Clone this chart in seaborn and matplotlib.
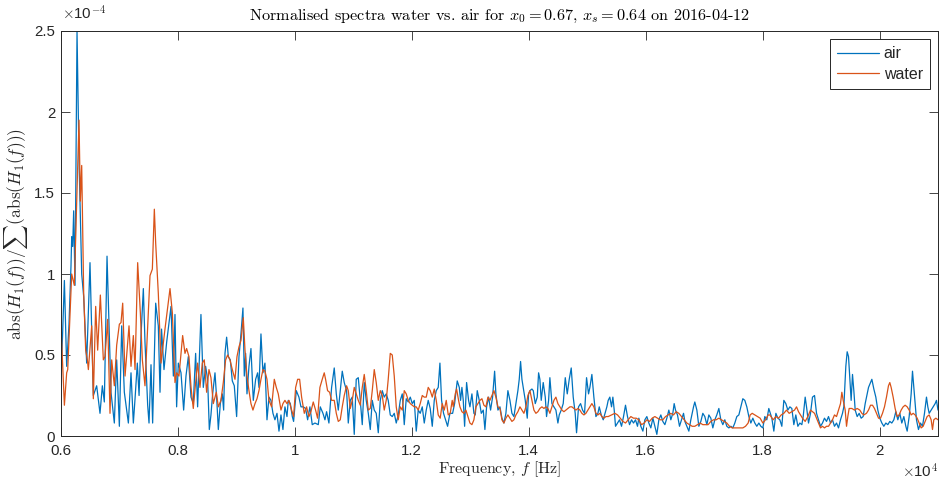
import numpy as np
import pandas as pd
import matplotlib
matplotlib.use("Agg")
import matplotlib.pyplot as plt
import seaborn as sns

# ---- data (frequency in Hz, normalised magnitude in units of 1e-4) ----
air_hz = [6000, 6063, 6102, 6142, 6176, 6188, 6205, 6222, 6245, 6279, 6313, 6359, 6393, 6444, 6501, 6558,
          6615, 6672, 6712, 6746, 6792, 6860, 6917, 6957, 7003, 7043, 7088, 7157, 7202, 7242, 7271, 7310,
          7340, 7373, 7413, 7441, 7487, 7510, 7544, 7572, 7624, 7669, 7698, 7724, 7766, 7812, 7886, 7926,
          7954, 7982, 8011, 8057, 8102, 8142, 8182, 8228, 8267, 8307, 8341, 8398, 8438, 8478, 8512, 8541,
          8569, 8598, 8638, 8672, 8695, 8729, 8763, 8786, 8809, 8837, 8866, 8900, 8934, 8968, 9008, 9048,
          9082, 9116, 9139, 9162, 9185, 9219, 9253, 9293, 9333, 9367, 9390, 9424, 9458, 9492, 9527, 9561,
          9595, 9629, 9663, 9698, 9732, 9766, 9800, 9834, 9869, 9891, 9926, 9960, 9982, 10028,
          10073, 10108, 10147, 10187, 10222, 10261, 10301, 10347, 10404, 10438, 10484, 10518, 10546, 10586,
          10632, 10677, 10712, 10746, 10780, 10814, 10848, 10888, 10917, 10951, 10985, 11019, 11053, 11088,
          11122, 11156, 11190, 11224, 11259, 11293, 11327, 11361, 11395, 11430, 11464, 11498, 11532, 11566,
          11600, 11635, 11669, 11703, 11737, 11771, 11806, 11840, 11874, 11908, 11942, 11977, 12011, 12045,
          12079, 12113, 12147, 12182, 12216, 12250, 12284, 12318, 12353, 12387, 12421, 12455, 12484, 12512,
          12546, 12580, 12615,
          12655, 12701, 12735, 12780, 12815, 12837, 12860, 12883, 12906, 12940, 12974, 12997, 13031, 13065,
          13088, 13122, 13156, 13191, 13225, 13253, 13282, 13316, 13350, 13384, 13419, 13441, 13476, 13510,
          13544, 13578, 13612, 13646, 13681, 13715, 13749, 13783, 13817, 13840, 13863, 13886, 13920, 13943,
          13977, 14000, 14023, 14057, 14080, 14114, 14148, 14171, 14193, 14216, 14250, 14285, 14307, 14342,
          14364, 14399, 14433, 14467, 14501, 14524, 14558, 14592, 14627, 14661, 14695, 14729, 14763, 14797,
          14820, 14854, 14889, 14923, 14957, 14991, 15025, 15048, 15082, 15116, 15151, 15185, 15208, 15242,
          15276,
          15338, 15361, 15389, 15418, 15441, 15464, 15486, 15521, 15555, 15589, 15623, 15657, 15691, 15726,
          15760, 15794, 15828, 15862, 15885, 15919, 15954, 15988, 16022, 16056, 16090, 16125, 16159, 16193,
          16227, 16261, 16295, 16330, 16364, 16398, 16432, 16466, 16489, 16512, 16546, 16580, 16615, 16649,
          16672, 16706, 16740, 16774, 16797, 16820, 16842, 16877, 16911, 16945, 16979, 17013, 17048, 17082,
          17116, 17150, 17184, 17218, 17253, 17287, 17321, 17355, 17389, 17424, 17458, 17492, 17526, 17560,
          17595, 17629, 17663, 17697, 17731, 17766, 17800, 17834, 17868, 17902, 17937, 17971, 18005, 18039,
          18073, 18107,
          18159, 18193, 18228, 18262, 18296, 18330, 18364, 18398, 18433, 18467, 18501, 18535, 18569, 18604,
          18638, 18672, 18695, 18729, 18752, 18786, 18820, 18854, 18889, 18923, 18957, 18991, 19025, 19059,
          19094, 19128, 19162, 19196, 19230, 19265, 19299, 19333, 19367, 19390, 19424, 19447, 19470, 19493,
          19515, 19538, 19561, 19584, 19618, 19652, 19686, 19720, 19755, 19789, 19812, 19846, 19869, 19903,
          19937, 19971, 20005, 20040, 20074, 20108, 20142, 20176, 20210, 20245, 20279, 20313, 20347, 20381,
          20416, 20450, 20473, 20507, 20541, 20564, 20587, 20609, 20632, 20666, 20700, 20735, 20769, 20803,
          20826, 20849, 20883, 20917, 20951, 20974, 21000]
air_val = [0.28, 0.96, 0.43, 0.69, 1.05, 1.23, 1.17, 1.39, 0.93, 2.50, 1.71, 1.00, 0.86, 0.45, 1.07, 0.25,
           0.31, 0.14, 0.31, 0.21, 1.11, 0.27, 0.08, 0.47, 0.06, 0.68, 0.27, 0.08, 0.39, 0.08, 0.23, 0.45,
           0.25, 0.62, 0.91, 0.58, 0.19, 0.08, 0.44, 0.08, 0.82, 0.68, 0.27, 0.66, 0.41, 0.58, 0.80, 0.37,
           0.75, 0.18, 0.45, 0.39, 0.16, 0.37, 0.49, 0.24, 0.20, 0.51, 0.18, 0.75, 0.30, 0.43, 0.35, 0.04,
           0.13, 0.26, 0.39, 0.20, 0.04, 0.20, 0.26, 0.16, 0.51, 0.61, 0.49, 0.47, 0.34, 0.31, 0.12, 0.49,
           0.63, 0.79, 0.37, 0.51, 0.26, 0.43, 0.54, 0.22, 0.35, 0.39, 0.30, 0.63, 0.39, 0.45, 0.10, 0.24,
           0.22, 0.14, 0.10, 0.14, 0.03, 0.13, 0.04, 0.18, 0.12, 0.22, 0.20, 0.12, 0.09, 0.28,
           0.24, 0.18, 0.18, 0.17, 0.10, 0.18, 0.07, 0.08, 0.07, 0.18, 0.14, 0.10, 0.15, 0.08,
           0.30, 0.42, 0.26, 0.16, 0.28, 0.40, 0.33, 0.28, 0.08, 0.22, 0.24, 0.01, 0.35, 0.36,
           0.22, 0.07, 0.33, 0.22, 0.14, 0.04, 0.22, 0.16, 0.14, 0.02, 0.22, 0.28, 0.24, 0.26,
           0.22, 0.13, 0.12, 0.14, 0.08, 0.13, 0.22, 0.26, 0.07, 0.23, 0.21, 0.24, 0.20, 0.22,
           0.03, 0.16, 0.14, 0.18, 0.08, 0.16, 0.22, 0.17, 0.06, 0.22, 0.28, 0.30, 0.45, 0.22,
           0.14, 0.10, 0.06,
           0.14, 0.14, 0.20, 0.34, 0.30, 0.22, 0.30, 0.22, 0.06, 0.33, 0.22, 0.18, 0.26, 0.14,
           0.13, 0.28, 0.22, 0.14, 0.16, 0.04, 0.18, 0.24, 0.16, 0.24, 0.40, 0.26, 0.16, 0.18,
           0.11, 0.08, 0.14, 0.28, 0.22, 0.14, 0.12, 0.20, 0.28, 0.35, 0.46, 0.35, 0.27, 0.22,
           0.11, 0.26, 0.28, 0.29, 0.28, 0.20, 0.24, 0.39, 0.35, 0.22, 0.33, 0.24, 0.12, 0.22,
           0.36, 0.20, 0.18, 0.16, 0.08, 0.13, 0.16, 0.20, 0.36, 0.26, 0.35, 0.42, 0.24, 0.14,
           0.02, 0.18, 0.20, 0.16, 0.14, 0.36, 0.26, 0.30, 0.38, 0.24, 0.12, 0.14, 0.18, 0.13,
           0.10,
           0.18, 0.22, 0.24, 0.18, 0.24, 0.16, 0.06, 0.08, 0.10, 0.06, 0.12, 0.19, 0.12, 0.07,
           0.10, 0.08, 0.10, 0.06, 0.11, 0.06, 0.03, 0.10, 0.12, 0.08, 0.05, 0.11, 0.06, 0.01,
           0.10, 0.13, 0.09, 0.07, 0.11, 0.16, 0.10, 0.14, 0.20, 0.16, 0.13, 0.06, 0.10, 0.14,
           0.09, 0.06, 0.03, 0.10, 0.14, 0.18, 0.21, 0.16, 0.06, 0.09, 0.14, 0.12, 0.07, 0.13,
           0.11, 0.05, 0.10, 0.13, 0.17, 0.10, 0.07, 0.10, 0.06, 0.05, 0.06, 0.05, 0.08, 0.12,
           0.13, 0.18, 0.23, 0.22, 0.18, 0.12, 0.08, 0.11, 0.08, 0.06, 0.08, 0.06, 0.05, 0.12,
           0.10, 0.17,
           0.11, 0.03, 0.14, 0.11, 0.10, 0.06, 0.22, 0.20, 0.16, 0.18, 0.17, 0.07, 0.13, 0.06,
           0.08, 0.07, 0.12, 0.24, 0.18, 0.08, 0.14, 0.24, 0.25, 0.14, 0.10, 0.06, 0.08, 0.11,
           0.09, 0.12, 0.08, 0.10, 0.06, 0.08, 0.05, 0.10, 0.14, 0.18, 0.43, 0.52, 0.49, 0.35,
           0.22, 0.38, 0.28, 0.16, 0.12, 0.14, 0.11, 0.12, 0.20, 0.26, 0.30, 0.33, 0.35, 0.29,
           0.24, 0.16, 0.11, 0.08, 0.06, 0.08, 0.07, 0.09, 0.08, 0.10, 0.15, 0.10, 0.14, 0.08,
           0.12, 0.06, 0.03, 0.12, 0.26, 0.40, 0.30, 0.20, 0.10, 0.04, 0.08, 0.06, 0.14, 0.24,
           0.18, 0.14, 0.16, 0.18, 0.20, 0.22, 0.16]

water_hz = [6000, 6063, 6102, 6120, 6188, 6233, 6313, 6336, 6359, 6393, 6427, 6456, 6473, 6530, 6558, 6598,
            6632, 6678, 6729, 6758, 6803, 6843, 6872, 6917, 6957, 7003, 7031, 7060, 7100, 7168, 7202, 7242,
            7271, 7316, 7362, 7396, 7441, 7527, 7567, 7601, 7624, 7669, 7715, 7783, 7869, 7909,
            7954, 7982, 8022, 8085, 8125, 8153, 8193, 8228, 8267, 8307, 8341, 8381, 8421, 8455, 8495, 8535,
            8569, 8609, 8661, 8695, 8740, 8780, 8820, 8854, 8894, 8934, 8980, 9014, 9048, 9082, 9122, 9151,
            9185, 9219, 9253, 9287, 9322, 9356, 9390, 9424, 9458, 9492, 9527, 9561, 9606, 9652, 9686, 9720,
            9766, 9800, 9834, 9869, 9903, 9948, 9982, 10017, 10051, 10085,
            10119, 10165, 10204, 10244, 10278, 10318, 10358, 10392, 10432, 10472, 10506, 10529, 10563, 10598,
            10632, 10677, 10712, 10746, 10780, 10814, 10848, 10888, 10917, 10951, 10985, 11019, 11053, 11088,
            11122, 11156, 11190, 11224, 11259, 11293, 11327, 11361, 11395, 11430, 11464, 11498, 11532, 11566,
            11600, 11635, 11669, 11703, 11737, 11771, 11806, 11840, 11874, 11908, 11942, 11977, 12011, 12045,
            12079, 12113, 12147, 12182, 12216, 12250, 12284, 12318, 12353, 12387, 12421, 12455, 12489, 12523,
            12558, 12592, 12626, 12660, 12694,
            12712, 12746, 12769, 12803, 12826, 12860, 12894, 12928, 12963, 12997, 13031, 13065, 13099, 13134,
            13168, 13202, 13236, 13270, 13305, 13339, 13373, 13407, 13441, 13476, 13510, 13544, 13578, 13612,
            13646, 13681, 13715, 13749, 13783, 13817, 13852, 13886, 13920, 13954, 13988, 14023, 14057, 14091,
            14125, 14159, 14193, 14228, 14262, 14296, 14330, 14364, 14399, 14433, 14467, 14501, 14535, 14570,
            14604, 14638, 14672, 14706, 14740, 14775, 14809, 14843, 14877, 14911, 14946, 14980, 15014, 15048,
            15082, 15116, 15151, 15185, 15219, 15253, 15287, 15322,
            15361, 15418, 15475, 15521, 15566, 15612, 15657, 15703, 15748, 15794, 15840, 15885, 15931, 15976,
            16022, 16068, 16113, 16159, 16204, 16250, 16295, 16341, 16387, 16432, 16478, 16523, 16569, 16615,
            16660, 16706, 16751, 16797, 16842, 16888, 16934, 16979, 17025, 17070, 17116, 17161, 17207, 17253,
            17298, 17344, 17389, 17435, 17481, 17526, 17572, 17617, 17663, 17709, 17754, 17788, 17823, 17868,
            17914, 17959, 18005, 18051, 18096,
            18125, 18182, 18228, 18273, 18319, 18364, 18410, 18455, 18501, 18547, 18581, 18615, 18649, 18683,
            18729, 18775, 18820, 18854, 18889, 18923, 18957, 18991, 19025, 19059, 19094, 19128, 19162, 19196,
            19230, 19265, 19299, 19333, 19356, 19379, 19413, 19436, 19458, 19481, 19527, 19572, 19618, 19663,
            19698, 19732, 19777, 19812, 19846, 19880, 19914, 19948, 19983, 20017, 20051, 20085, 20119, 20153,
            20176, 20199, 20233, 20267, 20302, 20336, 20370, 20404, 20438, 20473, 20507, 20541, 20575, 20609,
            20644, 20678, 20712, 20746, 20780, 20814, 20849, 20883, 20906, 20928, 20963, 21000]
water_val = [0.72, 0.19, 0.39, 0.41, 1.00, 0.93, 1.95, 1.45, 1.67, 0.88, 0.53, 0.47, 0.41, 0.68, 0.23, 0.80,
             0.53, 0.87, 0.47, 0.49, 0.72, 0.14, 0.47, 0.31, 0.56, 0.69, 0.70, 0.82, 0.37, 0.68, 0.43, 0.62,
             0.41, 1.07, 0.76, 0.47, 0.31, 0.99, 1.03, 1.40, 1.19, 0.88, 0.45, 0.66, 0.91, 0.76,
             0.33, 0.39, 0.37, 0.62, 0.51, 0.54, 0.49, 0.30, 0.17, 0.33, 0.45, 0.30, 0.45, 0.47, 0.27, 0.41,
             0.36, 0.20, 0.27, 0.18, 0.22, 0.33, 0.47, 0.50, 0.47, 0.41, 0.35, 0.49, 0.55, 0.59, 0.73, 0.53,
             0.37, 0.28, 0.20, 0.16, 0.20, 0.23, 0.28, 0.35, 0.41, 0.40, 0.35, 0.22, 0.18, 0.35, 0.30, 0.26,
             0.16, 0.20, 0.22, 0.20, 0.22, 0.16, 0.12, 0.30, 0.35, 0.35,
             0.24, 0.14, 0.18, 0.12, 0.15, 0.21, 0.16, 0.11, 0.30, 0.35, 0.39, 0.35, 0.28, 0.27,
             0.22, 0.22, 0.14, 0.09, 0.10, 0.18, 0.25, 0.31, 0.28, 0.17, 0.22, 0.30, 0.26, 0.22,
             0.19, 0.30, 0.38, 0.28, 0.16, 0.17, 0.28, 0.41, 0.33, 0.22, 0.28, 0.25, 0.16, 0.22,
             0.35, 0.51, 0.50, 0.37, 0.18, 0.10, 0.18, 0.16, 0.28, 0.26, 0.22, 0.20, 0.19, 0.18,
             0.18, 0.16, 0.20, 0.25, 0.24, 0.24, 0.30, 0.28, 0.24, 0.29, 0.22, 0.13, 0.11, 0.20,
             0.16, 0.22, 0.13, 0.14, 0.22,
             0.18, 0.26, 0.29, 0.22, 0.18, 0.15, 0.14, 0.16, 0.12, 0.08, 0.07, 0.10, 0.18, 0.20,
             0.22, 0.23, 0.19, 0.18, 0.24, 0.22, 0.25, 0.28, 0.24, 0.18, 0.17, 0.10, 0.08, 0.11,
             0.13, 0.11, 0.09, 0.10, 0.13, 0.15, 0.18, 0.16, 0.14, 0.18, 0.25, 0.28, 0.22, 0.16,
             0.14, 0.15, 0.17, 0.18, 0.17, 0.18, 0.17, 0.14, 0.18, 0.22, 0.24, 0.20, 0.18, 0.16,
             0.15, 0.16, 0.17, 0.18, 0.18, 0.17, 0.16, 0.17, 0.16, 0.14, 0.13, 0.14, 0.16, 0.18,
             0.20, 0.18, 0.14, 0.13, 0.14, 0.12, 0.11, 0.12,
             0.12, 0.13, 0.14, 0.13, 0.11, 0.09, 0.08, 0.10, 0.12, 0.11, 0.11, 0.10, 0.07, 0.08,
             0.10, 0.09, 0.11, 0.12, 0.11, 0.10, 0.10, 0.12, 0.13, 0.14, 0.13, 0.15, 0.14, 0.12,
             0.10, 0.08, 0.07, 0.06, 0.06, 0.07, 0.08, 0.07, 0.07, 0.07, 0.09, 0.10, 0.10, 0.11,
             0.10, 0.09, 0.08, 0.06, 0.05, 0.05, 0.05, 0.05, 0.05, 0.06, 0.08, 0.13, 0.14, 0.13,
             0.12, 0.11, 0.08, 0.10, 0.13,
             0.13, 0.10, 0.12, 0.11, 0.13, 0.14, 0.16, 0.14, 0.15, 0.16, 0.18, 0.15, 0.13, 0.11,
             0.09, 0.12, 0.16, 0.15, 0.14, 0.11, 0.08, 0.05, 0.06, 0.05, 0.06, 0.06, 0.08, 0.10,
             0.13, 0.12, 0.16, 0.20, 0.27, 0.22, 0.16, 0.06, 0.12, 0.17, 0.17, 0.16, 0.17, 0.16,
             0.14, 0.13, 0.14, 0.16, 0.19, 0.19, 0.17, 0.14, 0.11, 0.11, 0.14, 0.18, 0.24, 0.31,
             0.33, 0.30, 0.24, 0.17, 0.12, 0.13, 0.16, 0.18, 0.19, 0.18, 0.16, 0.13, 0.14, 0.13,
             0.11, 0.08, 0.05, 0.06, 0.09, 0.12, 0.13, 0.10, 0.04, 0.10, 0.11, 0.10]

x_ticks = [6000, 8000, 10000, 12000, 14000, 16000, 18000, 20000]
x_tick_labels = ['0.6', '0.8', '1', '1.2', '1.4', '1.6', '1.8', '2']
y_ticks = [0, 0.5, 1, 1.5, 2, 2.5]
y_tick_labels = ['0', '0.5', '1', '1.5', '2', '2.5']
series_names = ['air', 'water']
series_colors = ['#0072BD', '#D95319']

title = (r'Normalised spectra water vs. air for $x_0 = 0.67$, $x_s = 0.64$ on 2016-04-12')
xlabel = r'Frequency, $f$ [Hz]'
ylabel = r'abs$(H_1(f))/\sum($abs$(H_1(f)))$'

# ---- plotting ----
sns.set_theme(style='white')
plt.rcParams['font.family'] = ['Liberation Sans', 'DejaVu Sans']
plt.rcParams['mathtext.fontset'] = 'cm'
plt.rcParams['axes.unicode_minus'] = False

df = pd.concat([
    pd.DataFrame({'hz': air_hz, 'val': air_val, 'series': series_names[0]}),
    pd.DataFrame({'hz': water_hz, 'val': water_val, 'series': series_names[1]}),
], ignore_index=True)

W, H = 939, 484
fig = plt.figure(figsize=(W / 100, H / 100), dpi=100)
ax = fig.add_axes([60.7 / W, (H - 436) / H, (938 - 60.7) / W, (436 - 31) / H])

sns.lineplot(data=df, x='hz', y='val', hue='series',
             palette=dict(zip(series_names, series_colors)),
             estimator=None, sort=False, linewidth=0.9, ax=ax)

ax.set_xlim(6000, 21000)
ax.set_ylim(0, 2.5)
ax.set_xticks(x_ticks)
ax.set_xticklabels(x_tick_labels)
ax.set_yticks(y_ticks)
ax.set_yticklabels(y_tick_labels)

tc = '#262626'
ax.tick_params(direction='in', length=6.5, width=0.6, colors=tc, labelsize=10.8,
               top=True, right=True, bottom=True, left=True, pad=4)
ax.tick_params(axis='x', pad=6)
for s in ax.spines.values():
    s.set_color(tc)
    s.set_linewidth(0.7)
    s.set_visible(True)

ax.set_title(title, fontsize=11.7, family='cmr10', color='black', pad=8)
ax.set_xlabel(xlabel, fontsize=11.5, family='cmr10', color=tc, labelpad=1)
ax.set_ylabel(ylabel, fontsize=12.5, family='cmr10', color=tc, labelpad=3)

fig.text(62 / W, 1 - 20 / H, r'$\times$10$^{-4}$', fontsize=10.8, color=tc,
         ha='left', va='baseline', family=['Liberation Sans', 'DejaVu Sans'])
fig.text(938 / W, 1 - 478 / H, r'$\times$10$^{4}$', fontsize=10.8, color=tc,
         ha='right', va='baseline', family=['Liberation Sans', 'DejaVu Sans'])

leg = ax.legend(loc='upper right', fontsize=11.5, frameon=True, fancybox=False,
                edgecolor=tc, framealpha=1, handlelength=2.6, handletextpad=0.3,
                borderpad=0.45, labelspacing=0.35, borderaxespad=0.5, title=None)
leg.get_frame().set_linewidth(0.7)

fig.savefig('out.png', dpi=100, facecolor='white')
